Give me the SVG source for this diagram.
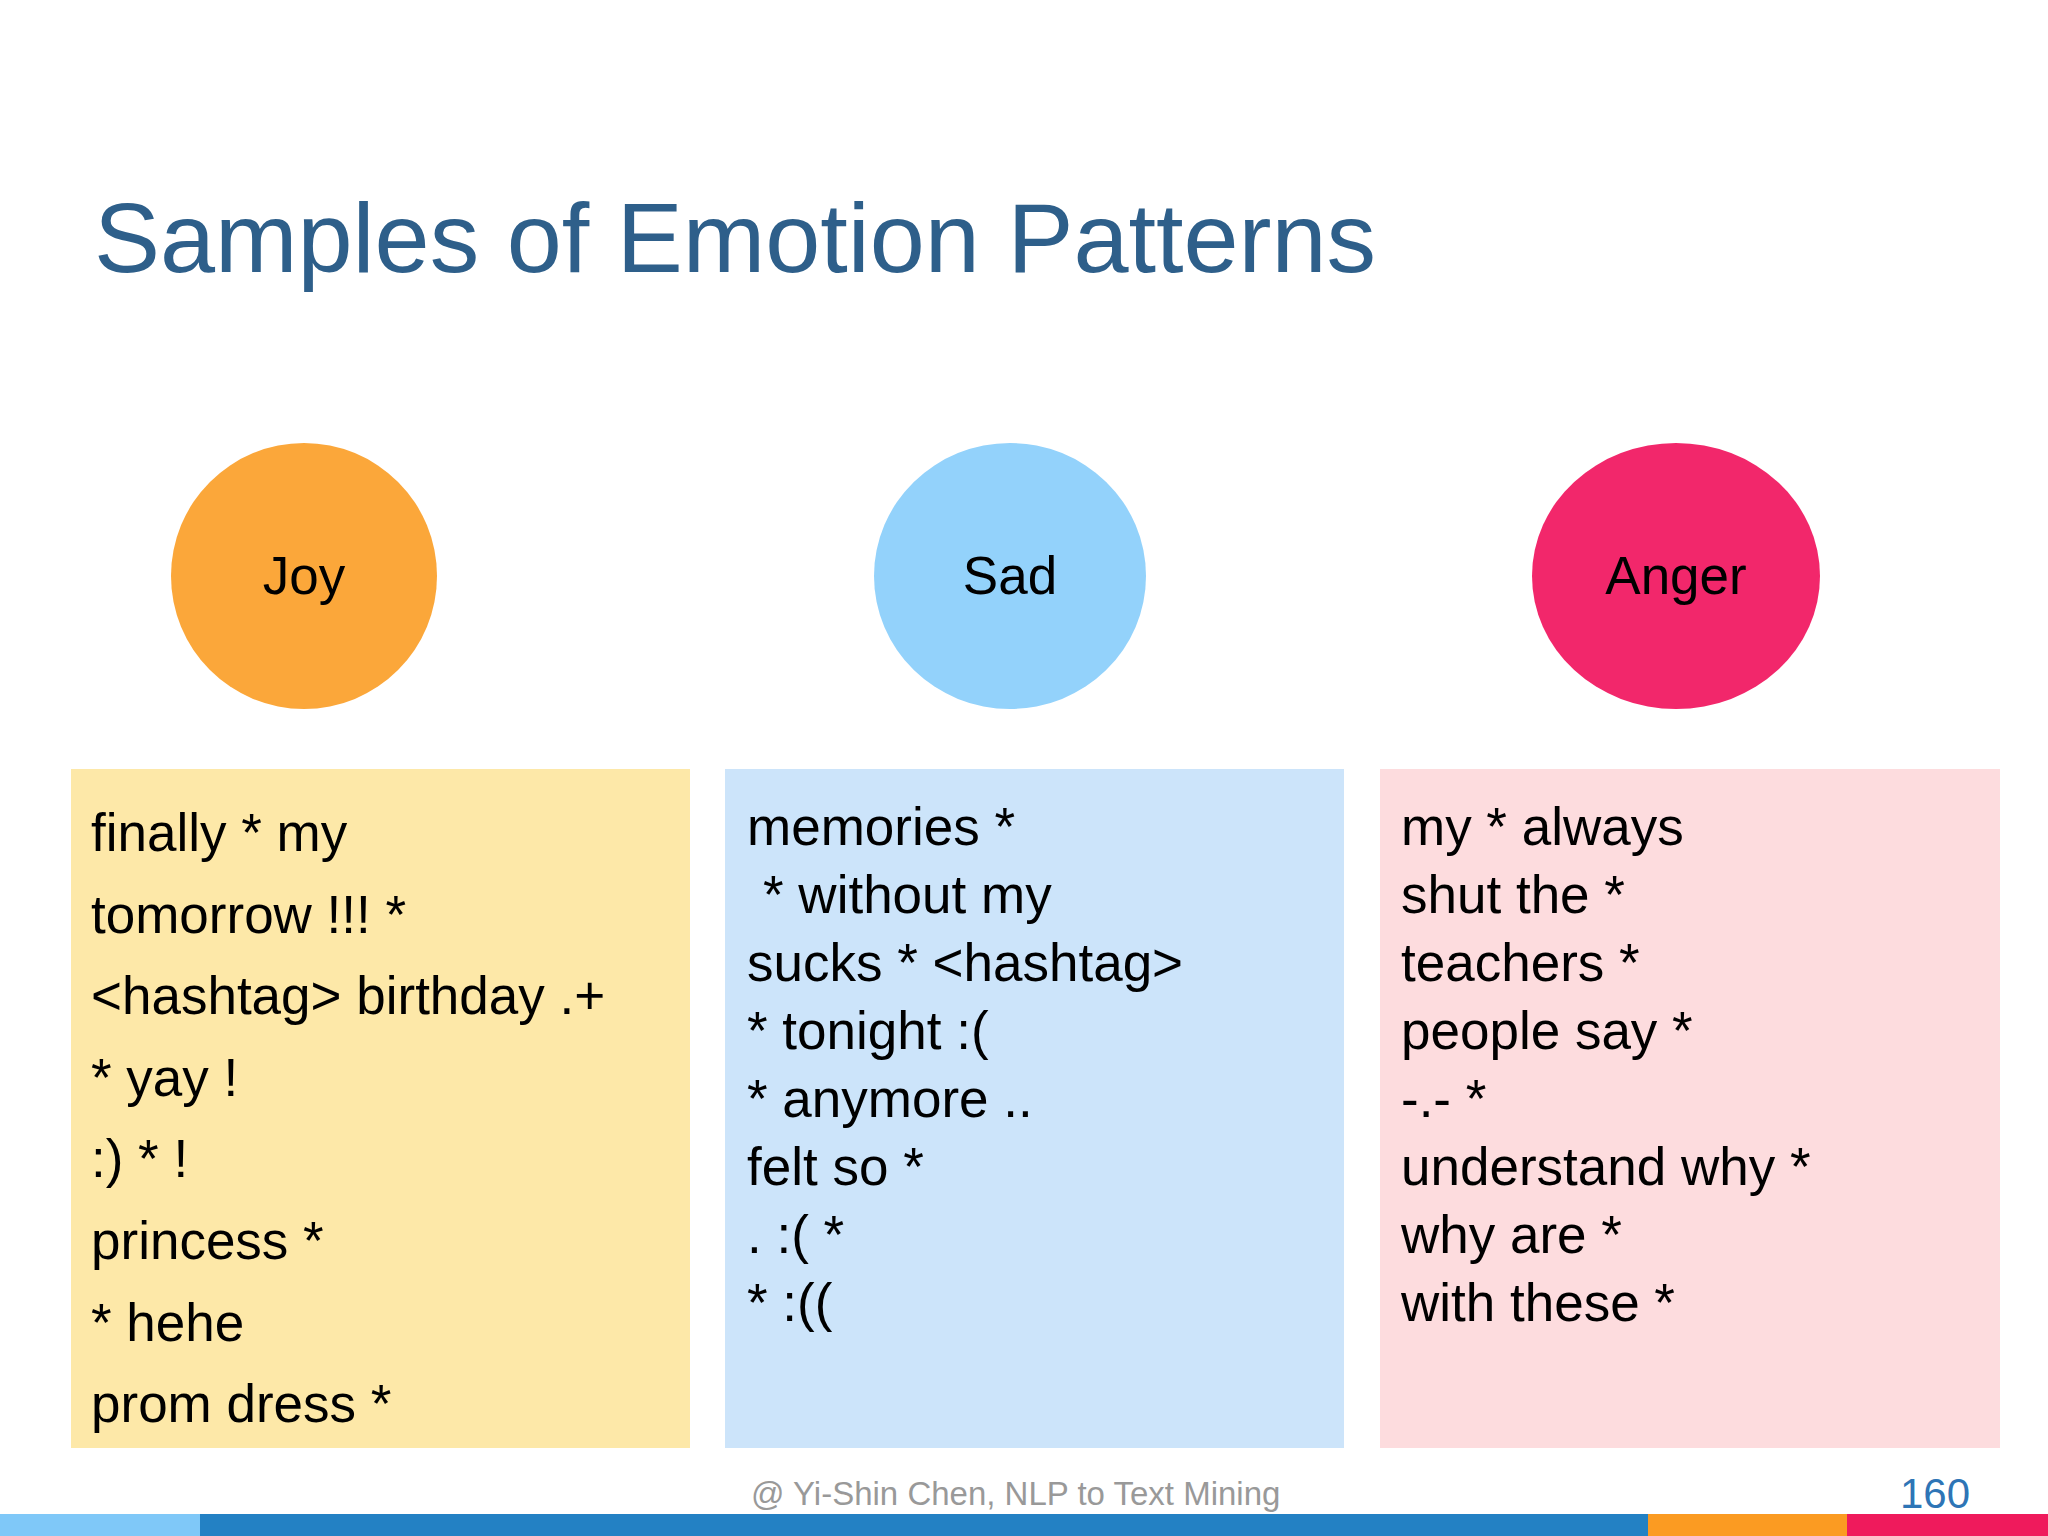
<svg xmlns="http://www.w3.org/2000/svg" width="2048" height="1536" viewBox="0 0 2048 1536">
<style>
.t{font-family:"Liberation Sans",Arial,sans-serif;fill:#000}
.b{font-size:53px}
.c{font-size:53px;text-anchor:middle}
</style>
<rect width="2048" height="1536" fill="#fff"/>
<text x="94" y="272" font-family="Liberation Sans,Arial,sans-serif" font-size="99" fill="#2E5F8A">Samples of Emotion Patterns</text>
<g id="joy"><ellipse cx="304" cy="576" rx="133" ry="133" fill="#FBA73A"/><text class="t c" x="304" y="594">Joy</text></g>
<g id="sad"><ellipse cx="1010" cy="576" rx="136" ry="133" fill="#93D2FB"/><text class="t c" x="1010" y="594">Sad</text></g>
<g id="anger"><ellipse cx="1676" cy="576" rx="144" ry="133" fill="#F2276B"/><text class="t c" x="1676" y="594">Anger</text></g>
<g id="joybox"><rect x="71" y="769" width="619" height="679" fill="#FDE8A8"/>
<text class="t b" x="91" y="851">finally * my</text><text class="t b" x="91" y="933">tomorrow !!! *</text><text class="t b" x="91" y="1014">&lt;hashtag&gt; birthday .+</text><text class="t b" x="91" y="1096">* yay !</text><text class="t b" x="91" y="1177">:) * !</text><text class="t b" x="91" y="1259">princess *</text><text class="t b" x="91" y="1341">* hehe</text><text class="t b" x="91" y="1422">prom dress *</text></g>
<g id="sadbox"><rect x="725" y="769" width="619" height="679" fill="#CCE4FA"/>
<text class="t b" x="747" y="845">memories *</text><text class="t b" x="747" y="913"> <tspan x="763">* without my</tspan></text><text class="t b" x="747" y="981">sucks * &lt;hashtag&gt;</text><text class="t b" x="747" y="1049">* tonight :(</text><text class="t b" x="747" y="1117">* anymore ..</text><text class="t b" x="747" y="1185">felt so *</text><text class="t b" x="747" y="1253">. :( *</text><text class="t b" x="747" y="1321">* :((</text></g>
<g id="angerbox"><rect x="1380" y="769" width="620" height="679" fill="#FDDCDE"/>
<text class="t b" x="1401" y="845">my * always</text><text class="t b" x="1401" y="913">shut the *</text><text class="t b" x="1401" y="981">teachers *</text><text class="t b" x="1401" y="1049">people say *</text><text class="t b" x="1401" y="1117">-.- *</text><text class="t b" x="1401" y="1185">understand why *</text><text class="t b" x="1401" y="1253">why are *</text><text class="t b" x="1401" y="1321">with these *</text></g>
<g id="connectors"/>
<text x="751" y="1505" font-family="Liberation Sans,Arial,sans-serif" font-size="33" fill="#999">@ Yi-Shin Chen, NLP to Text Mining</text>
<text x="1900" y="1508" font-family="Liberation Sans,Arial,sans-serif" font-size="42" fill="#2E75B6">160</text>
<rect x="0" y="1514" width="200" height="22" fill="#7FC8F8"/>
<rect x="200" y="1514" width="1448" height="22" fill="#2381C4"/>
<rect x="1648" y="1514" width="199" height="22" fill="#FB9B22"/>
<rect x="1847" y="1514" width="201" height="22" fill="#EF1A5C"/>
</svg>
